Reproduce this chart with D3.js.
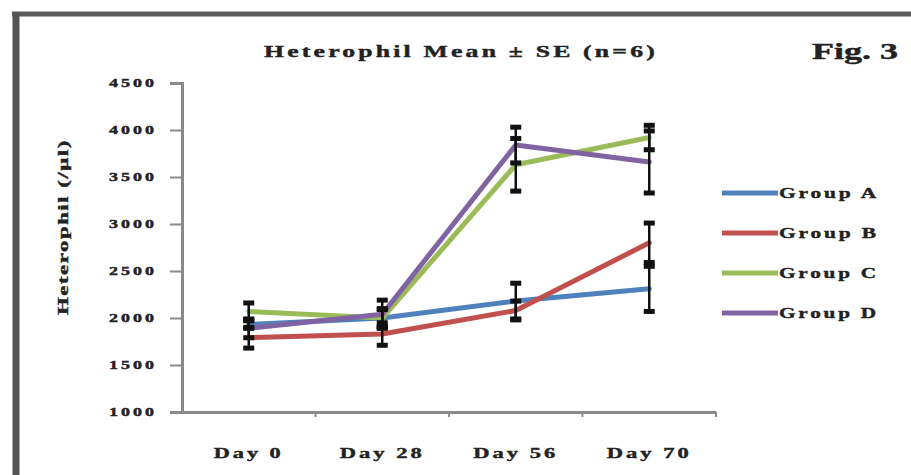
<!DOCTYPE html>
<html>
<head>
<meta charset="utf-8">
<script src="https://cdn.jsdelivr.net/npm/d3@7"></script>
<style>
  html, body { margin: 0; padding: 0; background: #fff; }
  svg { display: block; }
  text { font-family: "Liberation Serif", "DejaVu Serif", serif; font-weight: bold; fill: #222; stroke: #222; stroke-width: 0.4px; }
</style>
</head>
<body>
<svg id="chart" width="911" height="475"></svg>
<script>
const categories = ["Day 0", "Day 28", "Day 56", "Day 70"];
const seriesNames = ["Group A", "Group B", "Group C", "Group D"];
const groupA = [1930, 2000, 2180, 2310];
const groupB = [1790, 1830, 2080, 2800];
const groupC = [2070, 2000, 3630, 3920];
const groupD = [1890, 2040, 3840, 3660];
const seA = [40, 100, 190, 240];
const seB = [110, 120, 100, 210];
const seC = [90, 90, 280, 130];
const seD = [100, 150, 190, 330];
const yTicks = [1000, 1500, 2000, 2500, 3000, 3500, 4000, 4500];
const colors = ["#4F81BD", "#C0504D", "#9BBB59", "#8064A2"];

const series = [
  { name: seriesNames[0], values: groupA, se: seA, color: colors[0] },
  { name: seriesNames[1], values: groupB, se: seB, color: colors[1] },
  { name: seriesNames[2], values: groupC, se: seC, color: colors[2] },
  { name: seriesNames[3], values: groupD, se: seD, color: colors[3] }
];

const svg = d3.select("#chart");

// outer frame (scanned figure border)
svg.append("line").attr("x1", 12).attr("x2", 911).attr("y1", 14).attr("y2", 14)
  .attr("stroke", "#5a5a5a").attr("stroke-width", 5);
svg.append("line").attr("x1", 16).attr("x2", 16).attr("y1", 12).attr("y2", 475)
  .attr("stroke", "#555").attr("stroke-width", 7);

const pLeft = 182, pRight = 716, pTop = 83, pBottom = 412;

const x = d3.scaleBand().domain(categories).range([pLeft, pRight]);
const y = d3.scaleLinear().domain([1000, 4500]).range([pBottom, pTop]);

// Y axis
const yAxis = svg.append("g").attr("transform", `translate(${pLeft},0)`)
  .call(d3.axisLeft(y).tickValues(yTicks).tickSize(12).tickPadding(13).tickFormat(d3.format("d")));
yAxis.select(".domain").attr("stroke", "#8a8a8a").attr("stroke-width", 3);
yAxis.selectAll(".tick line").attr("stroke", "#8a8a8a").attr("stroke-width", 2);
yAxis.selectAll(".tick text")
  .attr("font-size", null).attr("font-family", null)
  .style("font-size", "12px").style("letter-spacing", "2px")
  .attr("textLength", 48).attr("lengthAdjust", "spacingAndGlyphs")
  .attr("fill", "#333");

// X axis
const xAxis = svg.append("g").attr("transform", `translate(0,${pBottom})`)
  .call(d3.axisBottom(x).tickSize(0).tickSizeOuter(0).tickPadding(35));
xAxis.select(".domain").attr("stroke", "#8a8a8a").attr("stroke-width", 3);
xAxis.selectAll(".tick text")
  .attr("font-size", null).attr("font-family", null)
  .style("font-size", "15px").style("letter-spacing", "2px")
  .attr("textLength", d => d === "Day 0" ? 70 : 85).attr("lengthAdjust", "spacingAndGlyphs")
  .attr("fill", "#222");
// category boundary ticks
const bounds = categories.map(c => x(c) + x.bandwidth());
xAxis.selectAll(".bnd").data(bounds).enter().append("line")
  .attr("x1", d => d).attr("x2", d => d).attr("y1", 0).attr("y2", 5)
  .attr("stroke", "#8a8a8a").attr("stroke-width", 2);

// lines
const line = d3.line()
  .x((d, i) => x(categories[i]) + x.bandwidth() / 2)
  .y(d => y(d));
svg.append("g").selectAll("path").data(series).enter().append("path")
  .attr("d", d => line(d.values))
  .attr("fill", "none").attr("stroke", d => d.color).attr("stroke-width", 5)
  .attr("stroke-linejoin", "round").attr("stroke-linecap", "round");

// error bars
const eb = svg.append("g");
series.forEach(s => {
  s.values.forEach((v, i) => {
    const cx = x(categories[i]) + x.bandwidth() / 2;
    const y1 = y(v + s.se[i]), y2 = y(v - s.se[i]);
    eb.append("line").attr("x1", cx).attr("x2", cx).attr("y1", y1).attr("y2", y2)
      .attr("stroke", "#111").attr("stroke-width", 2.5);
    [y1, y2].forEach(yy => {
      eb.append("rect").attr("x", cx - 5.5).attr("y", yy - 2.5).attr("width", 11).attr("height", 5)
        .attr("fill", "#111");
    });
  });
});

// Title
svg.append("text").attr("x", 264).attr("y", 57)
  .style("font-size", "16px").style("letter-spacing", "2px")
  .attr("textLength", 394).attr("lengthAdjust", "spacingAndGlyphs")
  .text("Heterophil Mean ± SE  (n=6)");
svg.append("text").attr("x", 812).attr("y", 59)
  .style("font-size", "23px")
  .attr("textLength", 86).attr("lengthAdjust", "spacingAndGlyphs")
  .text("Fig. 3");

// Y axis title
svg.append("text").attr("transform", "translate(68,227) rotate(-90)")
  .attr("text-anchor", "middle")
  .style("font-size", "15px").style("letter-spacing", "1px")
  .attr("textLength", 176).attr("lengthAdjust", "spacingAndGlyphs")
  .text("Heterophil (/µl)");

// Legend
const leg = svg.append("g");
const legY = d3.scalePoint().domain(seriesNames).range([193, 313]);
series.forEach(s => {
  const yy = legY(s.name);
  leg.append("line").attr("x1", 722).attr("x2", 778).attr("y1", yy).attr("y2", yy)
    .attr("stroke", s.color).attr("stroke-width", 5);
  leg.append("text").attr("x", 779).attr("y", yy + 5)
    .style("font-size", "15px").style("letter-spacing", "2px")
    .attr("textLength", 100).attr("lengthAdjust", "spacingAndGlyphs")
    .text(s.name);
});
</script>
</body>
</html>
